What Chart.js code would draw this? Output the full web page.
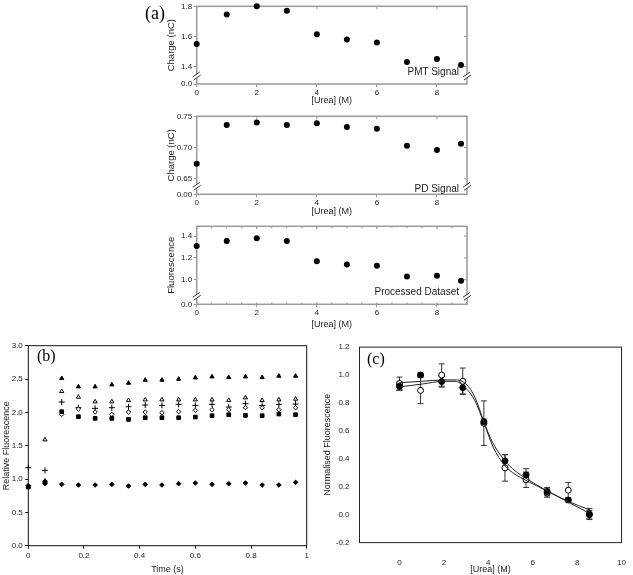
<!DOCTYPE html>
<html>
<head>
<meta charset="utf-8">
<title>Urea denaturation</title>
<script src="https://cdn.jsdelivr.net/npm/chart.js@4.4.0/dist/chart.umd.min.js"></script>
<style>
  body { margin: 0; background: #fff; }
  #wrap { position: relative; width: 633px; height: 575px; overflow: hidden; }
  canvas { position: absolute; }
  .lbl { position: absolute; font-family: "Liberation Serif", "Times New Roman", serif; line-height: 1; color: #000; }
  .note { position: absolute; font-family: "Liberation Sans", Arial, sans-serif; font-size: 10px; line-height: 12px; color: #222; white-space: nowrap; }
</style>
</head>
<body>
<div id="wrap">
  <canvas id="a1"></canvas>
  <canvas id="a2"></canvas>
  <canvas id="a3"></canvas>
  <canvas id="b"></canvas>
  <canvas id="c"></canvas>
  <div class="lbl" style="left:145px; top:4px; font-size:18px;">(a)</div>
  <div class="lbl" style="left:37px; top:348px; font-size:16px;">(b)</div>
  <div class="lbl" style="left:367px; top:351px; font-size:16px;">(c)</div>
  <div class="note" style="right:174px; top:66px;">PMT Signal</div>
  <div class="note" style="right:174px; top:183px;">PD Signal</div>
  <div class="note" style="right:174px; top:286px;">Processed Dataset</div>
</div>
<script>
// (a) urea titration
var urea = [0, 1, 2, 3, 4, 5, 6, 7, 8, 8.8];
var pmtCharge = [1.55, 1.745, 1.80, 1.77, 1.615, 1.58, 1.56, 1.43, 1.45, 1.41];
var pdCharge = [0.674, 0.736, 0.740, 0.736, 0.739, 0.733, 0.730, 0.703, 0.696, 0.706];
var processed = [1.31, 1.355, 1.38, 1.355, 1.17, 1.14, 1.127, 1.03, 1.035, 0.99];
var ureaTicks = [0, 2, 4, 6, 8];
var pmtTicks = [1.4, 1.6, 1.8];
var pdTicks = [0.65, 0.70, 0.75];
var procTicks = [1.0, 1.2, 1.4];

// (b) time course
var time = [0, 0.06, 0.12, 0.18, 0.24, 0.30, 0.36, 0.42, 0.48, 0.54, 0.60, 0.66, 0.72, 0.78, 0.84, 0.90, 0.96];
var filledTri = [0.90, 0.97, 2.51, 2.385, 2.385, 2.415, 2.44, 2.485, 2.485, 2.50, 2.52, 2.535, 2.525, 2.535, 2.525, 2.545, 2.545];
var openTri = [0.89, 1.59, 2.315, 2.23, 2.16, 2.16, 2.18, 2.19, 2.19, 2.19, 2.19, 2.19, 2.18, 2.22, 2.18, 2.19, 2.20];
var plusSer = [1.17, 1.13, 2.155, 2.07, 2.06, 2.07, 2.085, 2.11, 2.105, 2.12, 2.105, 2.12, 2.08, 2.13, 2.105, 2.12, 2.125];
var openDia = [0.90, 0.96, 1.97, 2.05, 2.005, 1.97, 2.005, 2.005, 1.995, 2.01, 2.03, 2.04, 2.04, 2.07, 2.07, 2.04, 2.07];
var squares = [0.88, 0.95, 2.01, 1.935, 1.91, 1.91, 1.895, 1.92, 1.92, 1.92, 1.93, 1.95, 1.965, 1.955, 1.95, 1.975, 1.965];
var diamonds = [0.90, 0.93, 0.92, 0.91, 0.91, 0.92, 0.895, 0.92, 0.91, 0.93, 0.94, 0.92, 0.93, 0.94, 0.91, 0.91, 0.95];
var timeTicks = [0, 0.2, 0.4, 0.6, 0.8, 1];
var timeLabels = ['0', '0.2', '0.4', '0.6', '0.8', '1'];
var relTicks = [0, 0.5, 1, 1.5, 2, 2.5, 3];

// (c) normalised curves
var ureaC = [0, 0.95, 1.9, 2.85, 3.8, 4.75, 5.7, 6.65, 7.6, 8.55];
var normFilled = [0.92, 1.0, 0.953, 0.91, 0.665, 0.385, 0.284, 0.165, 0.105, 0.0];
var errFilled = [0.03, 0.015, 0.04, 0.045, 0.02, 0.045, 0.045, 0.03, 0.015, 0.03];
var normOpen = [0.94, 0.89, 1.0, 0.955, 0.655, 0.335, 0.25, 0.155, 0.175, 0.005];
var errOpen = [0.045, 0.095, 0.08, 0.095, 0.16, 0.095, 0.055, 0.03, 0.055, 0.04];
var fitX = [0, 1, 2, 2.5, 3, 3.4, 3.8, 4.2, 4.75, 5.2, 5.7, 6.65, 7.6, 8.55];
var fitOpen = [0.945, 0.955, 0.965, 0.965, 0.935, 0.84, 0.665, 0.49, 0.35, 0.29, 0.245, 0.17, 0.095, 0.035];
var fitFilled = [0.915, 0.935, 0.955, 0.955, 0.905, 0.815, 0.66, 0.515, 0.385, 0.315, 0.26, 0.17, 0.09, 0.01];
var ureaCTicks = [0, 2, 4, 6, 8, 10];
var normTicks = [-0.2, 0, 0.2, 0.4, 0.6, 0.8, 1.0, 1.2];

Chart.defaults.font.family = '"Liberation Sans", Arial, sans-serif';
Chart.defaults.color = '#222';

function pts(xs, ys) {
  return xs.map(function(x, i) { return { x: x, y: ys[i] }; });
}

function line(ctx, x1, y1, x2, y2) {
  ctx.beginPath(); ctx.moveTo(x1, y1); ctx.lineTo(x2, y2); ctx.stroke();
}

// box round the plot, inner ticks on top/right, broken-axis marks
var framePlugin = {
  id: 'frame',
  beforeDatasetsDraw: function(chart, args, o) {
    var a = chart.chartArea, ctx = chart.ctx;
    ctx.save();
    ctx.strokeStyle = o.color;
    ctx.lineWidth = o.width;
    ctx.strokeRect(a.left, a.top, a.right - a.left, a.bottom - a.top);
    if (o.innerTicks) {
      var xs = chart.scales.x, ys = chart.scales.y;
      ctx.lineWidth = 1;
      xs.ticks.forEach(function(t) {
        var px = xs.getPixelForValue(t.value);
        line(ctx, px, a.top, px, a.top + 3);
      });
      ys.ticks.forEach(function(t) {
        var py = ys.getPixelForValue(t.value);
        if (py < a.bottom - 1) line(ctx, a.right, py, a.right - 3, py);
      });
      if (o.minor) {
        for (var v = xs.min; v <= xs.max; v += o.minor) {
          var p = xs.getPixelForValue(v);
          line(ctx, p, a.top, p, a.top + 2);
          line(ctx, p, a.bottom, p, a.bottom - 2);
        }
      }
    }
    if (o.breakMark) {
      var by = a.bottom - 8;
      [a.left, a.right].forEach(function(bx) {
        ctx.fillStyle = '#fff';
        ctx.fillRect(bx - 3, by - 2, 6, 4);
        ctx.strokeStyle = '#333';
        ctx.lineWidth = 1;
        line(ctx, bx - 4, by + 1, bx + 3, by - 4);
        line(ctx, bx - 3, by + 4, bx + 4, by - 1);
      });
    }
    ctx.restore();
  }
};

// vertical error bars with caps
var errorPlugin = {
  id: 'errbars',
  beforeDatasetsDraw: function(chart) {
    var ctx = chart.ctx, xs = chart.scales.x, ys = chart.scales.y;
    ctx.save();
    ctx.strokeStyle = '#333';
    ctx.lineWidth = 1;
    chart.data.datasets.forEach(function(ds) {
      if (!ds.errors) return;
      ds.data.forEach(function(p, i) {
        var px = xs.getPixelForValue(p.x);
        var top = ys.getPixelForValue(p.y + ds.errors[i]);
        var bot = ys.getPixelForValue(p.y - ds.errors[i]);
        line(ctx, px, top, px, bot);
        line(ctx, px - 3, top, px + 3, top);
        line(ctx, px - 3, bot, px + 3, bot);
      });
    });
    ctx.restore();
  }
};

function setCanvas(id, left, top, w, h) {
  var c = document.getElementById(id);
  c.width = w; c.height = h;
  c.style.left = left + 'px'; c.style.top = top + 'px';
  c.style.width = w + 'px'; c.style.height = h + 'px';
  return c;
}

function panelA(id, box, vals, yMin, yMax, yTicks, breakLabel, digits, yTitle) {
  var h = Math.round(box.titleY + 5.4 - box.top);
  var c = setCanvas(id, 160, box.top, 315, h);
  new Chart(c, {
    type: 'scatter',
    data: { datasets: [{
      data: pts(urea, vals), pointRadius: 3, pointBackgroundColor: '#000',
      pointBorderColor: '#000', pointBorderWidth: 0, clip: false
    }] },
    options: {
      responsive: false, animation: false, devicePixelRatio: 1,
      layout: { padding: { top: box.plotTop - box.top, right: 8, left: 0, bottom: 0 } },
      plugins: { legend: { display: false }, tooltip: { enabled: false },
        frame: { color: '#9a9a9a', width: 1.5, innerTicks: true, minor: box.minor, breakMark: true } },
      scales: {
        x: {
          type: 'linear', min: 0, max: 9,
          afterBuildTicks: function(s) { s.ticks = ureaTicks.map(function(v) { return { value: v }; }); },
          afterFit: function(s) { s.height = box.top + h - box.axisY; },
          ticks: { font: { size: 8 }, padding: 1, maxRotation: 0,
            callback: function(v) { return String(v); } },
          grid: { drawOnChartArea: false, tickLength: 3, color: '#9a9a9a' },
          border: { display: false },
          title: { display: true, text: '[Urea] (M)', font: { size: 9 }, padding: { top: 0, bottom: 0 } }
        },
        y: {
          type: 'linear', min: yMin, max: yMax,
          afterBuildTicks: function(s) {
            s.ticks = [{ value: yMin }].concat(yTicks.map(function(v) { return { value: v }; }));
          },
          afterFit: function(s) { s.width = 36.7; },
          ticks: { font: { size: 8 }, padding: 1.5,
            callback: function(v) { return v === yMin ? breakLabel : v.toFixed(digits); } },
          grid: { drawOnChartArea: false, tickLength: 3, color: '#9a9a9a' },
          border: { display: false },
          title: { display: true, text: yTitle, font: { size: 9.5 }, padding: { top: 6, bottom: 0 } }
        }
      }
    },
    plugins: [framePlugin]
  });
}

panelA('a1', { top: 0, plotTop: 3.7, axisY: 84, titleY: 101 }, pmtCharge, 1.2844, 1.8, pmtTicks, '0.0', 1, 'Charge (nC)');
panelA('a2', { top: 110, plotTop: 114.3, axisY: 194.3, titleY: 212 }, pdCharge, 0.6251, 0.75, pdTicks, '0.00', 2, 'Charge (nC)');
panelA('a3', { top: 220, plotTop: 224.3, axisY: 304.3, titleY: 325, minor: 0.5 }, processed, 0.7736, 1.49, procTicks, '0.0', 1, 'Fluorescence');

// (b)
var cb = setCanvas('b', 0, 335, 318, 240);
function ser(vals, style, r, fill) {
  return { data: pts(time, vals), pointStyle: style, pointRadius: r,
    pointBackgroundColor: fill, pointBorderColor: '#000', pointBorderWidth: 1, clip: false };
}
new Chart(cb, {
  type: 'scatter',
  data: { datasets: [
    ser(diamonds, 'rectRot', 2.3, '#000'),
    ser(squares, 'rect', 2.6, '#000'),
    ser(openDia, 'rectRot', 2.2, '#fff'),
    ser(plusSer, 'cross', 3, '#000'),
    ser(openTri, 'triangle', 2.4, '#fff'),
    ser(filledTri, 'triangle', 2.4, '#000')
  ] },
  options: {
    responsive: false, animation: false, devicePixelRatio: 1,
    layout: { padding: { top: 10.7, right: 11.3, left: 0, bottom: 0 } },
    plugins: { legend: { display: false }, tooltip: { enabled: false },
      frame: { color: '#111', width: 1 } },
    scales: {
      x: {
        type: 'linear', min: 0, max: 1,
        afterBuildTicks: function(s) { s.ticks = timeTicks.map(function(v) { return { value: v }; }); },
        afterFit: function(s) { s.height = 29.3; },
        ticks: { font: { size: 8 }, padding: 2, maxRotation: 0,
          callback: function(v) { return timeLabels[timeTicks.indexOf(v)]; } },
        grid: { drawOnChartArea: false, tickLength: 3, color: '#111' },
        border: { display: false },
        title: { display: true, text: 'Time (s)', font: { size: 9 }, padding: { top: 0, bottom: 0 } }
      },
      y: {
        type: 'linear', min: 0, max: 3,
        afterBuildTicks: function(s) { s.ticks = relTicks.map(function(v) { return { value: v }; }); },
        afterFit: function(s) { s.width = 28.3; },
        ticks: { font: { size: 8 }, padding: 2.5, callback: function(v) { return v.toFixed(1); } },
        grid: { drawOnChartArea: false, tickLength: 3, color: '#111' },
        border: { display: false },
        title: { display: true, text: 'Relative Fluorescence', font: { size: 9 }, padding: { top: 1, bottom: 0 } }
      }
    }
  },
  plugins: [framePlugin]
});

// (c)
var cc = setCanvas('c', 318, 335, 315, 240);
new Chart(cc, {
  type: 'scatter',
  data: { datasets: [
    { data: pts(fitX, fitOpen), showLine: true, cubicInterpolationMode: 'monotone',
      borderColor: '#222', borderWidth: 1, pointRadius: 0 },
    { data: pts(fitX, fitFilled), showLine: true, cubicInterpolationMode: 'monotone',
      borderColor: '#222', borderWidth: 1, pointRadius: 0 },
    { data: pts(ureaC, normFilled), errors: errFilled, pointRadius: 3,
      pointBackgroundColor: '#000', pointBorderColor: '#000', pointBorderWidth: 1, clip: false },
    { data: pts(ureaC, normOpen), errors: errOpen, pointRadius: 3,
      pointBackgroundColor: '#fff', pointBorderColor: '#000', pointBorderWidth: 1, clip: false }
  ] },
  options: {
    responsive: false, animation: false, devicePixelRatio: 1,
    layout: { padding: { top: 12.1, right: 4, left: 0, bottom: 0 } },
    plugins: { legend: { display: false }, tooltip: { enabled: false },
      frame: { color: '#222', width: 1 } },
    scales: {
      x: {
        type: 'linear', min: -1.8, max: 10,
        afterBuildTicks: function(s) { s.ticks = ureaCTicks.map(function(v) { return { value: v }; }); },
        afterFit: function(s) { s.height = 32.4; },
        ticks: { font: { size: 8 }, padding: 7, maxRotation: 0,
          callback: function(v) { return String(v); } },
        grid: { display: false },
        border: { display: false },
        title: { display: true, text: '[Urea] (M)', font: { size: 9 }, padding: { top: 0, bottom: 0 } }
      },
      y: {
        type: 'linear', min: -0.2, max: 1.2,
        afterBuildTicks: function(s) { s.ticks = normTicks.map(function(v) { return { value: v }; }); },
        afterFit: function(s) { s.width = 41.5; },
        ticks: { font: { size: 8 }, padding: 2, callback: function(v) { return v.toFixed(1); } },
        grid: { display: false },
        border: { display: false },
        title: { display: true, text: 'Normalised Fluorescence', font: { size: 9 }, padding: { top: 4.6, bottom: 0 } }
      }
    }
  },
  plugins: [framePlugin, errorPlugin]
});
</script>
</body>
</html>
